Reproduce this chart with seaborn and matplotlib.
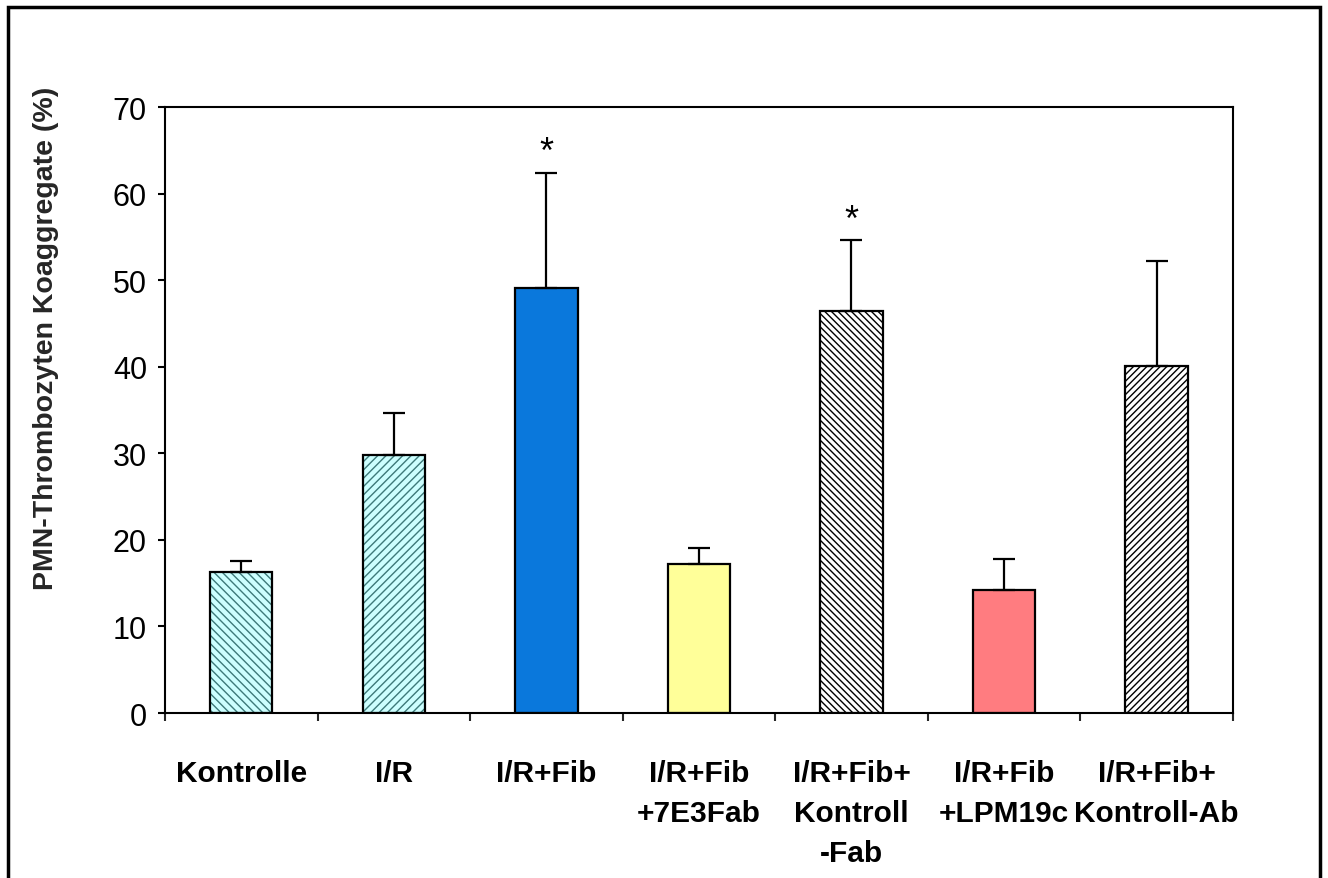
import matplotlib
matplotlib.use("Agg")
import matplotlib.pyplot as plt
from matplotlib.patches import Rectangle
import seaborn as sns
import pandas as pd
import numpy as np

# ---- data ----
categories = ["Kontrolle", "I/R", "I/R+Fib", "I/R+Fib\n+7E3Fab",
              "I/R+Fib+\nKontroll\n-Fab", "I/R+Fib\n+LPM19c", "I/R+Fib+\nKontroll-Ab"]
values = [16.3, 29.8, 49.1, 17.2, 46.4, 14.2, 40.1]
errors = [1.3, 4.8, 13.3, 1.9, 8.2, 3.6, 12.1]
stars = ["", "", "*", "", "*", "", ""]
fill_colors = ["#ccffff", "#ccffff", "#0a78dc", "#ffff99", "#ffffff", "#ff7c80", "#ffffff"]
hatches = ["\\\\\\\\", "////", "", "", "\\\\\\\\\\", "", "/////"]
hatch_colors = ["#3d7a7a", "#3d7a7a", None, None, "#000000", None, "#000000"]
y_ticks = [0, 10, 20, 30, 40, 50, 60, 70]

sns.set_style("white")
plt.rcParams["font.family"] = ["Liberation Sans", "DejaVu Sans"]
plt.rcParams["hatch.linewidth"] = 1.0

fig = plt.figure(figsize=(13.28, 8.79), dpi=100)
ax = fig.add_axes([0.1242, 0.1877, 0.8042, 0.6894])

df = pd.DataFrame({"cat": categories, "val": values})
sns.barplot(data=df, x="cat", y="val", hue="cat", order=categories,
            hue_order=categories, palette=dict(zip(categories, fill_colors)),
            width=0.41, errorbar=None, legend=False, ax=ax, saturation=1)

for i, cont in enumerate(ax.containers):
    for p in cont:
        if hatches[i]:
            p.set_hatch(hatches[i])
            p.set_edgecolor(hatch_colors[i])
            p.set_linewidth(0)
            border = Rectangle((p.get_x(), p.get_y()), p.get_width(), p.get_height(),
                               fill=False, edgecolor="black", linewidth=1.6, zorder=p.get_zorder() + 0.1)
            ax.add_patch(border)
        else:
            p.set_edgecolor("black")
            p.set_linewidth(1.6)

xpos = np.arange(len(categories))
ax.errorbar(xpos, values, yerr=[np.zeros(len(values)), errors], fmt="none",
            ecolor="black", elinewidth=1.6, capsize=8, capthick=1.6, zorder=1)

for i, s in enumerate(stars):
    if s:
        ax.text(xpos[i], values[i] + errors[i] + 2.3, s, ha="center", va="center",
                fontsize=26, color="black")

ax.set_xlim(-0.5, len(categories) - 0.5)
ax.set_ylim(0, 70)
ax.set_yticks(y_ticks)
ax.set_yticklabels([str(t) for t in y_ticks], fontsize=22)
ax.tick_params(axis="y", direction="out", length=5, width=1.5, pad=8, colors="black", left=True)

ax.set_xticks(xpos)
ax.set_xticklabels(categories, fontsize=21.5, fontweight="bold", linespacing=1.55)
ax.tick_params(axis="x", which="major", length=0, pad=33, colors="black")
ax.set_xticks(np.arange(-0.5, len(categories), 1.0), minor=True)
ax.tick_params(axis="x", which="minor", direction="out", length=6, width=1.5, bottom=True)

ax.set_xlabel("")
ax.set_ylabel("PMN-Thrombozyten Koaggregate (%)", fontsize=20.5, fontweight="bold")
ax.yaxis.set_label_coords(-0.099, 0.62)

for sp in ax.spines.values():
    sp.set_visible(True)
    sp.set_color("black")
    sp.set_linewidth(1.5)

# outer frame
frame = Rectangle((8 / 1328, -0.02), (1320 - 8) / 1328, 1.02 - 8 / 879,
                  transform=fig.transFigure, fill=False, edgecolor="black",
                  linewidth=2.5, clip_on=False)
fig.patches.append(frame)

fig.savefig("out.png", dpi=100)
